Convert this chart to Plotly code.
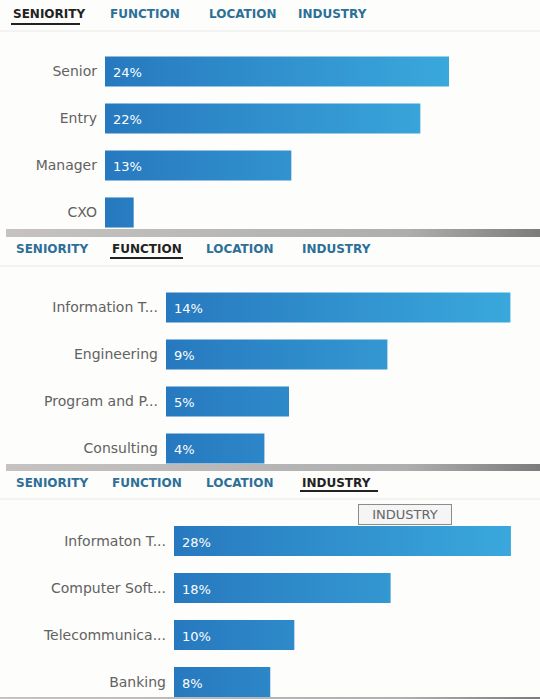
import plotly.graph_objects as go

W, H = 540, 699

# ---- data -------------------------------------------------------------
tab_names = ["SENIORITY", "FUNCTION", "LOCATION", "INDUSTRY"]

seniority_labels = ["Senior", "Entry", "Manager", "CXO"]
seniority_values = [24, 22, 13, 2]

function_labels = ["Information T...", "Engineering", "Program and P...", "Consulting"]
function_values = [14, 9, 5, 4]

industry_labels = ["Informaton T...", "Computer Soft...", "Telecommunica...", "Banking"]
industry_values = [28, 18, 10, 8]

# ---- layout of the three stacked panels (pixel geometry) ---------------
ROW = 47.0          # pixel distance between bar centres
HALF = 0.32         # half bar thickness, in category units
BAR_DARK, BAR_LIGHT = "#2779bf", "#3aa8dc"
TAB_BLUE, TAB_DARK = "#2c6f98", "#222222"
FONT = "DejaVu Sans, Verdana, sans-serif"

panels = [
    dict(labels=seniority_labels, values=seniority_values, left=105, xmax=30,
         top=40, first=71.5, bottom=236, active=0, tab_y=14, underline_y=24,
         rule_y=31, tab_x=[11, 108, 207, 296], tab_w=[69, 72, 73, 80]),
    dict(labels=function_labels, values=function_values, left=166, xmax=15,
         top=276, first=307.5, bottom=470, active=1, tab_y=249, underline_y=258,
         rule_y=266, tab_x=[14, 110, 204, 300], tab_w=[70, 73, 76, 78]),
    dict(labels=industry_labels, values=industry_values, left=174, xmax=30,
         top=505, first=541, bottom=699, active=3, tab_y=483, underline_y=491,
         rule_y=499, tab_x=[14, 110, 204, 300], tab_w=[70, 73, 76, 78]),
]

fig = go.Figure()
annotations = []
shapes = []
RIGHT = 535

for k, p in enumerate(panels, start=1):
    xa = "x" if k == 1 else f"x{k}"
    ya = "y" if k == 1 else f"y{k}"
    n = len(p["values"])
    vmax = max(p["values"])

    # bars: filled rectangles with a horizontal gradient along the value axis
    for i, v in enumerate(p["values"]):
        fig.add_trace(go.Scatter(
            x=[0, v, v, 0, 0],
            y=[i - HALF, i - HALF, i + HALF, i + HALF, i - HALF],
            mode="lines", fill="toself",
            line=dict(width=0, color="rgba(0,0,0,0)"),
            fillgradient=dict(type="horizontal", start=0, stop=vmax,
                              colorscale=[[0, BAR_DARK], [1, BAR_LIGHT]]),
            hoverinfo="skip", showlegend=False,
            xaxis=xa, yaxis=ya,
        ))
        # percentage label inside the bar (only where the bar has room)
        if v >= 3:
            annotations.append(dict(
                x=0, y=i, xref=xa, yref=ya, text=f"{v}%", showarrow=False,
                xanchor="left", yanchor="middle", xshift=6, yshift=-1,
                font=dict(family=FONT, size=13, color="white"),
            ))

    dom_x = [p["left"] / W, RIGHT / W]
    dom_y = [1 - p["bottom"] / H, 1 - p["top"] / H]
    yr = [(p["bottom"] - p["first"]) / ROW, (p["top"] - p["first"]) / ROW]

    fig.layout[f"xaxis{'' if k == 1 else k}"] = dict(
        domain=dom_x, range=[0, p["xmax"]], visible=False, fixedrange=True,
        anchor=ya,
    )
    fig.layout[f"yaxis{'' if k == 1 else k}"] = dict(
        domain=dom_y, range=yr, anchor=xa, fixedrange=True,
        tickvals=list(range(n)), ticktext=p["labels"],
        showgrid=False, zeroline=False, showline=False, ticks="",
        ticklabelstandoff=7,
        tickfont=dict(family=FONT, size=14, color="#626262"),
    )

    # tab header
    for j, name in enumerate(tab_names):
        active = j == p["active"]
        annotations.append(dict(
            x=p["tab_x"][j] / W, y=1 - p["tab_y"] / H, xref="paper", yref="paper",
            text=f"<b>{name}</b>", showarrow=False, xanchor="left", yanchor="middle",
            font=dict(family=FONT, size=12,
                      color=TAB_DARK if active else TAB_BLUE),
        ))
        if active:
            shapes.append(dict(
                type="line", xref="paper", yref="paper",
                x0=p["tab_x"][j] / W, x1=(p["tab_x"][j] + p["tab_w"][j]) / W,
                y0=1 - p["underline_y"] / H, y1=1 - p["underline_y"] / H,
                line=dict(color="#222222", width=2),
            ))
    shapes.append(dict(
        type="line", xref="paper", yref="paper", x0=0, x1=1,
        y0=1 - p["rule_y"] / H, y1=1 - p["rule_y"] / H,
        line=dict(color="#e9e9e9", width=1),
    ))

# ---- grey divider strips between panels (overlay axis in pixel units) ---
dividers = [(6, 229, 237), (6, 464, 471), (0, 697, 699)]
for x0, y0, y1 in dividers:
    fig.add_trace(go.Scatter(
        x=[x0, W, W, x0, x0], y=[y0, y0, y1, y1, y0],
        mode="lines", fill="toself", line=dict(width=0, color="rgba(0,0,0,0)"),
        fillgradient=dict(type="horizontal", start=x0, stop=W,
                          colorscale=[[0, "#c6c2c2"], [0.75, "#aeaeae"], [1, "#7c7c7c"]]),
        hoverinfo="skip", showlegend=False, xaxis="x4", yaxis="y4",
    ))
fig.layout.xaxis4 = dict(domain=[0, 1], range=[0, W], visible=False, fixedrange=True, anchor="y4")
fig.layout.yaxis4 = dict(domain=[0, 1], range=[H, 0], visible=False, fixedrange=True, anchor="x4")

# tooltip over the active INDUSTRY tab
annotations.append(dict(
    x=405 / W, y=1 - 514 / H, xref="paper", yref="paper", text="INDUSTRY",
    showarrow=False, xanchor="center", yanchor="middle", width=88, height=15,
    font=dict(family=FONT, size=13, color="#666666"),
    bgcolor="#f5f5f5", bordercolor="#8c8c8c", borderwidth=1, borderpad=2,
))

fig.update_layout(
    width=W, height=H, margin=dict(l=0, r=0, t=0, b=0),
    paper_bgcolor="#fdfdfb", plot_bgcolor="rgba(0,0,0,0)",
    annotations=annotations, shapes=shapes, showlegend=False,
)

fig.write_html("out.html", config={"displayModeBar": False})
